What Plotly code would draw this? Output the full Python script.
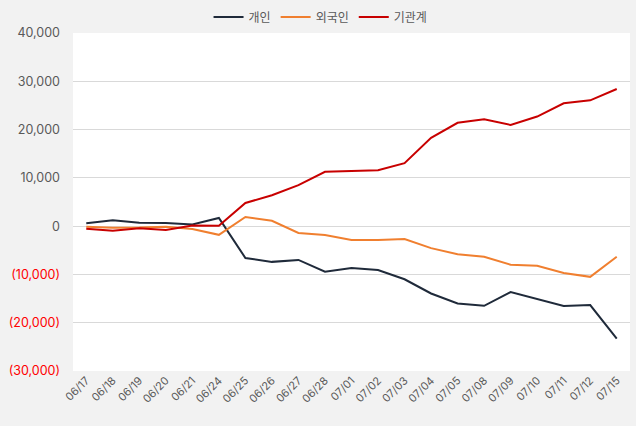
import plotly.graph_objects as go

dates = ["06/17","06/18","06/19","06/20","06/21","06/24","06/25","06/26","06/27","06/28",
         "07/01","07/02","07/03","07/04","07/05","07/08","07/09","07/10","07/11","07/12","07/15"]
individual = [600, 1200, 700, 650, 350, 1700, -6600, -7400, -7000, -9450,
              -8650, -9100, -11000, -13950, -16000, -16500, -13650, -15100, -16550, -16350, -23300]
foreign = [-150, -350, -300, -100, -600, -1800, 1900, 1100, -1400, -1850,
           -2850, -2850, -2650, -4550, -5800, -6350, -8000, -8200, -9700, -10500, -6350]
institution = [-550, -950, -450, -800, 150, 100, 4800, 6400, 8500, 11250,
               11400, 11600, 13050, 18300, 21400, 22150, 20950, 22700, 25450, 26050, 28400]

tick_vals = [40000, 30000, 20000, 10000, 0, -10000, -20000, -30000]
tick_text = ["40,000", "30,000", "20,000", "10,000", "0",
             "<span style='color:#ff0000'>(10,000)</span>",
             "<span style='color:#ff0000'>(20,000)</span>",
             "<span style='color:#ff0000'>(30,000)</span>"]

font_family = "Inter, 'Noto Sans CJK KR', sans-serif"

fig = go.Figure()
fig.add_trace(go.Scatter(x=dates, y=individual, name="개인", mode="lines",
                         line=dict(color="#1f2a3a", width=2)))
fig.add_trace(go.Scatter(x=dates, y=foreign, name="외국인", mode="lines",
                         line=dict(color="#f07f2f", width=2)))
fig.add_trace(go.Scatter(x=dates, y=institution, name="기관계", mode="lines",
                         line=dict(color="#c80000", width=2)))

fig.update_layout(
    width=636, height=426,
    paper_bgcolor="#f2f2f2", plot_bgcolor="#ffffff",
    margin=dict(l=73, r=6, t=33, b=55, autoexpand=False),
    font=dict(family=font_family, color="#595959", size=12),
    showlegend=True,
    legend=dict(orientation="h", x=0.504, xanchor="center", xref="container",
                y=1 - 17/426, yanchor="middle", yref="container",
                font=dict(size=12, color="#595959"), bgcolor="rgba(0,0,0,0)",
                itemwidth=30, tracegroupgap=0),
    xaxis=dict(type="category", range=[-0.5, 20.5], tickangle=-45, showgrid=False,
               tickfont=dict(size=11, color="#595959"), ticks="", showline=False,
               zeroline=False, automargin=False),
    yaxis=dict(range=[-30000, 40000], tickvals=tick_vals, ticktext=tick_text,
               showgrid=True, gridcolor="#d9d9d9", gridwidth=1, zeroline=False,
               ticks="", tickfont=dict(size=12.5, color="#595959"), showline=False,
               automargin=False, ticklabelstandoff=12),
)

fig.write_html("out.html",
               config={"displayModeBar": False},
               post_script="document.body.style.margin='0';document.body.style.overflow='hidden';")
